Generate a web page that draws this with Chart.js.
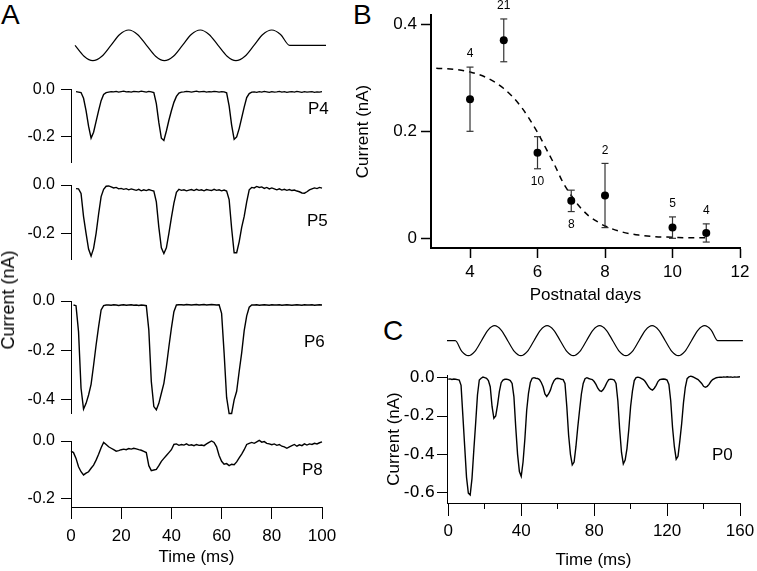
<!DOCTYPE html>
<html lang="en">
<head>
<meta charset="UTF-8">
<title>Transduction currents vs age</title>
<script src="https://cdn.jsdelivr.net/npm/chart.js"></script>
<style>
  body { margin: 0; background: #fff; }
  #fig { position: relative; width: 757px; height: 571px; overflow: hidden;
         font-family: "Liberation Sans", Arial, sans-serif; color: #000; }
  #fig canvas, #fig .txt { position: absolute; }
  .txt { line-height: 1; white-space: nowrap; }
  .letter { font-size: 28px; }
  .tag { font-size: 17px; }
  .ytitle { font-size: 18px; transform: translate(-50%, -50%) rotate(-90deg); }
</style>
</head>
<body>
<div id="fig">
  <div class="txt letter" style="left:1px;top:1px">A</div>
  <div class="txt letter" style="left:353px;top:1px">B</div>
  <div class="txt letter" style="left:383px;top:317px">C</div>

  <canvas id="stimA" width="256" height="39" style="left:71px;top:26px"></canvas>
  <canvas id="p4" width="340" height="93" style="left:0;top:79px"></canvas>
  <canvas id="p5" width="340" height="94" style="left:0;top:175px"></canvas>
  <canvas id="p6" width="340" height="132" style="left:0;top:291px"></canvas>
  <canvas id="p8" width="340" height="137" style="left:0;top:431px"></canvas>
  <canvas id="chartB" width="406" height="306" style="left:350px;top:0"></canvas>
  <canvas id="stimC" width="296" height="39" style="left:447px;top:321px"></canvas>
  <canvas id="chartC" width="376" height="206" style="left:380px;top:365px"></canvas>

  <div class="txt ytitle" style="left:8px;top:300px">Current (nA)</div>
  <div class="txt tag" style="left:308px;top:100px">P4</div>
  <div class="txt tag" style="left:307px;top:212px">P5</div>
  <div class="txt tag" style="left:304px;top:333px">P6</div>
  <div class="txt tag" style="left:302px;top:461px">P8</div>
  <div class="txt tag" style="left:712px;top:446px">P0</div>
</div>

<script>
// ---- panel A: stimulus and currents (nA) sampled every 1 ms ----
const timeA = [0,1,2,3,4,5,6,7,8,9,10,11,12,13,14,15,16,17,18,19,20,21,22,23,24,25,26,27,28,29,30,31,32,33,34,35,36,37,38,39,40,41,42,43,44,45,46,47,48,49,50,51,52,53,54,55,56,57,58,59,60,61,62,63,64,65,66,67,68,69,70,71,72,73,74,75,76,77,78,79,80,81,82,83,84,85,86,87,88,89,90,91,92,93,94,95,96,97,98,99,100];

const stimAT = [1.6,5.2,8.7,12.3,15.9,19.4,23.0,26.5,30.1,33.7,37.2,40.8,44.4,47.9,51.5,55.0,58.6,62.2,65.7,69.3,72.9,76.4,80.0,83.5,87.1,101.6];
const stimAV = [0,-0.71,-1,-0.71,0,0.71,1,0.71,0,-0.71,-1,-0.71,0,0.71,1,0.71,0,-0.71,-1,-0.71,0,0.71,1,0.71,0,0];

const currentP4 = [null,null,
  -0.010,-0.012,-0.014,-0.038,-0.090,-0.155,-0.205,-0.180,-0.135,-0.090,-0.048,-0.022,-0.014,
  -0.012,-0.010,-0.011,-0.009,-0.012,-0.010,-0.008,-0.011,-0.010,-0.012,-0.009,-0.010,-0.011,-0.008,-0.010,-0.012,-0.009,-0.011,
  -0.014,-0.060,-0.140,-0.205,-0.215,-0.175,-0.130,-0.090,-0.055,-0.030,-0.016,-0.012,
  -0.011,-0.009,-0.010,-0.012,-0.010,-0.008,-0.011,-0.010,-0.009,-0.012,-0.010,-0.011,-0.009,-0.010,-0.012,-0.010,-0.011,
  -0.015,-0.070,-0.150,-0.210,-0.200,-0.165,-0.120,-0.075,-0.035,-0.018,-0.012,
  -0.011,-0.013,-0.010,-0.012,-0.009,-0.011,-0.013,-0.010,-0.012,-0.011,-0.009,-0.012,-0.010,-0.013,-0.011,-0.010,-0.012,-0.009,-0.011,-0.013,-0.010,-0.012,-0.011,-0.010,-0.013,-0.011,-0.012,-0.010];

const currentP5 = [null,null,
  -0.015,-0.016,-0.035,-0.131,-0.200,-0.265,-0.294,-0.262,-0.200,-0.120,-0.048,-0.018,-0.005,-0.004,-0.008,-0.012,-0.010,-0.016,-0.014,-0.018,-0.015,-0.020,-0.016,-0.019,-0.022,-0.018,-0.024,-0.020,-0.023,-0.019,-0.022,-0.025,
  -0.070,-0.175,-0.260,-0.283,-0.260,-0.200,-0.135,-0.075,-0.030,-0.018,-0.022,
  -0.020,-0.024,-0.021,-0.019,-0.023,-0.018,-0.022,-0.020,-0.024,-0.019,-0.021,-0.023,-0.018,-0.022,-0.020,-0.024,-0.021,
  -0.025,-0.060,-0.180,-0.280,-0.280,-0.235,-0.175,-0.130,-0.070,-0.020,-0.010,
  -0.012,-0.006,-0.010,-0.008,-0.014,-0.010,-0.016,-0.012,-0.016,-0.020,-0.016,-0.021,-0.018,-0.022,-0.019,-0.023,-0.021,-0.025,-0.028,-0.033,-0.034,-0.028,-0.020,-0.016,-0.012,-0.015,-0.010,-0.013];

const currentP6 = [null,
  -0.016,-0.019,-0.124,-0.353,-0.437,-0.414,-0.380,-0.337,-0.260,-0.178,-0.104,-0.036,-0.019,-0.016,
  -0.016,-0.017,-0.015,-0.016,-0.018,-0.016,-0.015,-0.017,-0.016,-0.015,-0.017,-0.016,-0.018,-0.016,-0.017,
  -0.019,-0.117,-0.326,-0.427,-0.440,-0.414,-0.373,-0.333,-0.265,-0.185,-0.110,-0.043,-0.016,
  -0.015,-0.015,-0.016,-0.014,-0.015,-0.016,-0.015,-0.014,-0.016,-0.015,-0.014,-0.016,-0.015,-0.014,-0.015,-0.016,-0.015,
  -0.050,-0.210,-0.390,-0.455,-0.455,-0.400,-0.365,-0.285,-0.210,-0.120,-0.060,-0.025,-0.016,
  -0.016,-0.015,-0.017,-0.016,-0.015,-0.016,-0.017,-0.015,-0.016,-0.016,-0.015,-0.017,-0.016,-0.015,-0.016,-0.017,-0.016,-0.015,-0.016,-0.017,-0.015,-0.016,-0.016,-0.015,-0.017,-0.016,-0.015,-0.016];

const currentP8 = [
  -0.035,-0.040,-0.060,-0.089,-0.106,-0.117,-0.111,-0.106,-0.094,-0.083,
  -0.066,-0.046,-0.023,-0.005,-0.012,-0.020,-0.025,-0.030,-0.035,-0.033,
  -0.030,-0.028,-0.030,-0.026,-0.028,-0.025,-0.027,-0.030,-0.032,-0.036,
  -0.040,-0.085,-0.102,-0.100,-0.098,-0.085,-0.070,-0.060,-0.050,-0.040,
  -0.030,-0.012,-0.010,-0.015,-0.012,-0.014,-0.010,-0.015,-0.013,-0.016,
  -0.012,-0.015,-0.014,-0.016,-0.010,-0.005,0.000,-0.005,-0.020,-0.050,
  -0.070,-0.080,-0.078,-0.085,-0.080,-0.082,-0.072,-0.058,-0.045,-0.030,
  -0.012,-0.008,-0.005,-0.008,-0.003,0.002,-0.004,-0.002,-0.008,-0.010,
  -0.013,-0.010,-0.015,-0.012,-0.018,-0.020,-0.025,-0.020,-0.016,-0.012,
  -0.018,-0.013,-0.016,-0.010,-0.014,-0.010,-0.012,-0.008,-0.010,-0.006,
  -0.003];

// ---- panel B: peak current vs postnatal day ----
const days = [4, 5, 6, 7, 8, 10, 11];
const meanCurrent = [0.26, 0.37, 0.16, 0.07, 0.08, 0.02, 0.01];
const semCurrent = [0.06, 0.04, 0.03, 0.02, 0.06, 0.02, 0.017];
const nCells = [4, 21, 10, 8, 2, 5, 4];
const nAbove = [true, true, false, false, true, true, true];
const fitDays = [3.0,3.5,4.0,4.5,5.0,5.5,6.0,6.25,6.5,6.75,7.0,7.25,7.5,7.75,8.0,8.5,9.0,9.5,10.0,10.5,11.0];
const fitCurrent = [0.318,0.316,0.311,0.300,0.280,0.247,0.198,0.168,0.138,0.105,0.080,0.059,0.043,0.032,0.023,0.012,0.006,0.003,0.002,0.001,0.001];

// ---- panel C: P0 response, 1 ms samples ----
const timeC = [0,1,2,3,4,5,6,7,8,9,10,11,12,13,14,15,16,17,18,19,20,21,22,23,24,25,26,27,28,29,30,31,32,33,34,35,36,37,38,39,40,41,42,43,44,45,46,47,48,49,50,51,52,53,54,55,56,57,58,59,60,61,62,63,64,65,66,67,68,69,70,71,72,73,74,75,76,77,78,79,80,81,82,83,84,85,86,87,88,89,90,91,92,93,94,95,96,97,98,99,100,101,102,103,104,105,106,107,108,109,110,111,112,113,114,115,116,117,118,119,120,121,122,123,124,125,126,127,128,129,130,131,132,133,134,135,136,137,138,139,140,141,142,143,144,145,146,147,148,149,150,151,152,153,154,155,156,157,158,159,160];

const currentP0 = [
  -0.008,-0.006,-0.009,-0.007,-0.008,-0.010,-0.012,-0.040,-0.200,-0.360,
  -0.520,-0.603,-0.612,-0.525,-0.377,-0.238,-0.090,-0.012,-0.003,0.003,
  0.000,-0.003,-0.015,-0.047,-0.150,-0.212,-0.200,-0.143,-0.073,-0.026,
  -0.012,-0.008,-0.008,-0.010,-0.015,-0.030,-0.100,-0.260,-0.400,-0.490,
  -0.515,-0.440,-0.320,-0.170,-0.080,-0.025,-0.003,0.000,-0.003,-0.004,
  -0.010,-0.025,-0.047,-0.085,-0.098,-0.085,-0.065,-0.035,-0.015,-0.005,
  -0.003,-0.005,-0.008,-0.010,-0.030,-0.150,-0.300,-0.400,-0.455,-0.440,
  -0.360,-0.260,-0.170,-0.085,-0.030,-0.005,0.000,-0.004,-0.007,-0.010,
  -0.020,-0.035,-0.055,-0.068,-0.072,-0.062,-0.045,-0.025,-0.010,-0.008,
  -0.009,-0.012,-0.030,-0.120,-0.270,-0.390,-0.450,-0.430,-0.370,-0.270,
  -0.150,-0.070,-0.015,0.000,0.003,0.000,-0.005,-0.010,-0.020,-0.035,
  -0.050,-0.060,-0.065,-0.055,-0.040,-0.020,-0.010,-0.008,-0.007,-0.008,
  -0.012,-0.035,-0.120,-0.260,-0.360,-0.425,-0.410,-0.330,-0.240,-0.130,
  -0.050,-0.005,0.005,0.008,0.005,0.000,-0.005,-0.010,-0.020,-0.030,
  -0.045,-0.050,-0.045,-0.035,-0.020,-0.010,-0.005,0.000,0.002,0.003,
  0.002,0.004,0.003,0.005,0.003,0.004,0.002,0.004,0.003,0.004,
  0.005];

const stimCT = [-0.7,3.8,7.4,11.0,14.6,18.2,21.8,25.4,29.0,32.6,36.2,39.8,43.4,47.0,50.6,54.2,57.8,61.4,65.0,68.6,72.2,75.8,79.4,83.0,86.6,90.2,93.8,97.4,101.0,104.6,108.2,111.8,115.4,119.0,122.6,126.2,129.8,133.4,137.0,140.6,144.2,147.8,161.6];
const stimCV = [0,
  0,-0.71,-1,-0.71,0,0.71,1,0.71,
  0,-0.71,-1,-0.71,0,0.71,1,0.71,
  0,-0.71,-1,-0.71,0,0.71,1,0.71,
  0,-0.71,-1,-0.71,0,0.71,1,0.71,
  0,-0.71,-1,-0.71,0,0.71,1,0.71,
  0,0];

Chart.defaults.font.family = '"Liberation Sans", Arial, sans-serif';
Chart.defaults.font.size = 16;
Chart.defaults.color = '#000';

// force axis box sizes so every panel lines up with the reference
function fixBox(w, h) {
  return s => {
    if (w != null) s.width = w;
    if (h != null) s.height = h;
    s.paddingTop = s.paddingBottom = s.paddingLeft = s.paddingRight = 0;
  };
}
function tickAt(vals) {
  return s => { s.ticks = vals.map(v => ({ value: v })); };
}
function pairs(xs, ys) {
  return xs.map((x, i) => ({ x: x, y: ys[i] }));
}
const base = {
  responsive: false,
  animation: false,
  events: [],
  plugins: { legend: { display: false }, tooltip: { enabled: false } }
};

function stimChart(id, ts, vs, x0, x1, y0, y1) {
  new Chart(document.getElementById(id), {
    type: 'line',
    data: { datasets: [{ data: pairs(ts, vs), borderColor: '#000', borderWidth: 1.2,
      pointRadius: 0, cubicInterpolationMode: 'monotone', clip: false }] },
    options: Object.assign({}, base, {
      layout: { padding: 0 },
      scales: {
        x: { type: 'linear', display: false, min: x0, max: x1 },
        y: { display: false, min: y0, max: y1 }
      }
    })
  });
}

function traceChart(id, vals, yMin, yMax, yTicks, showX) {
  new Chart(document.getElementById(id), {
    type: 'line',
    data: { datasets: [{ data: pairs(timeA, vals), borderColor: '#000', borderWidth: 1.4,
      pointRadius: 0, clip: false }] },
    options: Object.assign({}, base, {
      layout: { padding: { left: 0, right: 18, top: 10, bottom: showX ? 0 : 10 } },
      scales: {
        x: {
          type: 'linear', min: 0, max: 100, display: showX,
          afterBuildTicks: tickAt([0, 20, 40, 60, 80, 100]),
          afterFit: fixBox(null, showX ? 61 : 0),
          border: { display: true, color: '#000', width: 1 },
          grid: { drawOnChartArea: false, tickLength: 12, color: '#000' },
          ticks: { padding: 7, font: { size: 17 }, maxRotation: 0, autoSkip: false },
          title: { display: true, text: 'Time (ms)', font: { size: 17 }, padding: 0 }
        },
        y: {
          min: yMin, max: yMax,
          afterBuildTicks: tickAt(yTicks),
          afterFit: fixBox(71, null),
          border: { display: true, color: '#000', width: 1 },
          grid: { drawOnChartArea: false, tickLength: 10, color: '#000' },
          ticks: { padding: 6, font: { size: 16 }, callback: v => v.toFixed(1) }
        }
      }
    })
  });
}

stimChart('stimA', stimAT, stimAV, 0, 102, -1.28, 1.26);
traceChart('p4', currentP4, -0.305, 0.001, [0, -0.2], false);
traceChart('p5', currentP5, -0.306, 0, [0, -0.2], false);
traceChart('p6', currentP6, -0.453, 0, [0, -0.2, -0.4], false);
traceChart('p8', currentP8, -0.2276, 0, [0, -0.2], true);

// ---- panel B ----
const errPts = [];
days.forEach((d, i) => {
  errPts.push({ x: d, y: meanCurrent[i] - semCurrent[i] });
  errPts.push({ x: d, y: meanCurrent[i] + semCurrent[i] });
  errPts.push({ x: d, y: null });
});

const countLabels = {
  id: 'countLabels',
  afterDatasetsDraw(chart) {
    const { ctx, scales: { x, y } } = chart;
    ctx.save();
    ctx.font = '12px "Liberation Sans", Arial, sans-serif';
    ctx.fillStyle = '#000';
    ctx.textAlign = 'center';
    ctx.textBaseline = 'middle';
    days.forEach((d, i) => {
      const up = nAbove[i];
      const v = up ? meanCurrent[i] + semCurrent[i] : meanCurrent[i] - semCurrent[i];
      ctx.fillText(String(nCells[i]), x.getPixelForValue(d), y.getPixelForValue(v) + (up ? -13 : 13));
    });
    ctx.restore();
  }
};

new Chart(document.getElementById('chartB'), {
  type: 'scatter',
  data: {
    datasets: [
      { type: 'scatter', data: pairs(days, meanCurrent), pointRadius: 4,
        pointBackgroundColor: '#000', pointBorderColor: '#000', pointBorderWidth: 0 },
      { type: 'line', data: errPts, showLine: true, spanGaps: false,
        borderColor: '#333', borderWidth: 1.2, pointStyle: 'line', pointRadius: 3.5,
        pointBorderColor: '#333', pointBorderWidth: 1.2 },
      { type: 'line', data: pairs(fitDays, fitCurrent), borderColor: '#000', borderWidth: 1.5,
        borderDash: [6, 5], pointRadius: 0, cubicInterpolationMode: 'monotone' }
    ]
  },
  options: Object.assign({}, base, {
    layout: { padding: { left: 3, right: 16, top: 15, bottom: 0 } },
    scales: {
      x: {
        type: 'linear', min: 2.844, max: 12,
        afterBuildTicks: tickAt([4, 6, 8, 10, 12]),
        afterFit: fixBox(null, 58),
        border: { display: true, color: '#000', width: 2 },
        grid: { drawOnChartArea: false, tickLength: 10, color: '#000', tickWidth: 1.5 },
        ticks: { padding: 4, font: { size: 17 }, maxRotation: 0, autoSkip: false },
        title: { display: true, text: 'Postnatal days', font: { size: 17 }, padding: 0 }
      },
      y: {
        min: -0.0181, max: 0.4174,
        afterBuildTicks: tickAt([0, 0.2, 0.4]),
        afterFit: fixBox(78, null),
        border: { display: true, color: '#000', width: 2 },
        grid: { drawOnChartArea: false, tickLength: 10, color: '#000', tickWidth: 1.5 },
        ticks: { padding: 4, font: { size: 17 }, callback: v => v === 0 ? '0' : v.toFixed(1) },
        title: { display: true, text: 'Current (nA)', font: { size: 17 }, padding: 0 }
      }
    }
  }),
  plugins: [countLabels]
});

// ---- panel C ----
stimChart('stimC', stimCT, stimCV, -0.713, 161.65, -1.287, 1.313);

new Chart(document.getElementById('chartC'), {
  type: 'line',
  data: { datasets: [{ data: pairs(timeC, currentP0), borderColor: '#000', borderWidth: 1.4,
    pointRadius: 0, clip: false }] },
  options: Object.assign({}, base, {
    layout: { padding: { left: 4, right: 16, top: 10, bottom: 0 } },
    scales: {
      x: {
        type: 'linear', min: -0.713, max: 160,
        afterBuildTicks: tickAt([0, 20, 40, 60, 80, 100, 120, 140, 160]),
        afterFit: fixBox(null, 68),
        border: { display: true, color: '#000', width: 1 },
        grid: {
          drawOnChartArea: false, tickLength: 13, color: '#000',
          // minor ticks (20, 60, ...) drawn shorter
          tickBorderDash: c => (c.tick && c.tick.value % 40 !== 0) ? [5, 40] : []
        },
        ticks: { padding: 5, font: { size: 17 }, maxRotation: 0, autoSkip: false,
          callback: v => v % 40 === 0 ? String(v) : '' },
        title: { display: true, text: 'Time (ms)', font: { size: 17 }, padding: 0 }
      },
      y: {
        min: -0.6537, max: 0.0141,
        afterBuildTicks: tickAt([0, -0.2, -0.4, -0.6]),
        afterFit: fixBox(63, null),
        border: { display: true, color: '#000', width: 1 },
        grid: { drawOnChartArea: false, tickLength: 10, color: '#000' },
        ticks: { padding: 2, font: { family: '"DejaVu Sans", sans-serif', size: 16 },
          callback: v => v.toFixed(1) },
        title: { display: true, text: 'Current (nA)', font: { size: 17 }, padding: 0 }
      }
    }
  })
});
</script>
</body>
</html>
